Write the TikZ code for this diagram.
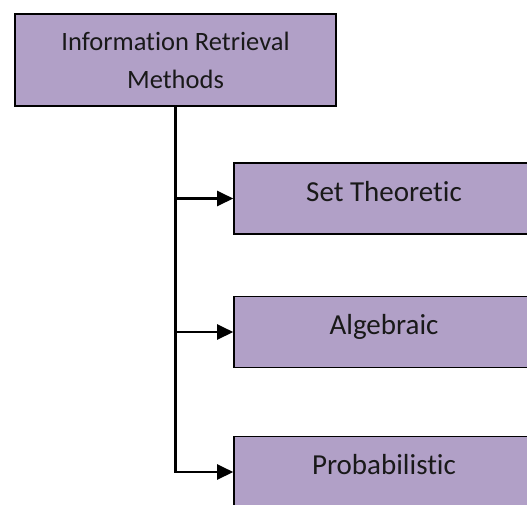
\documentclass[tikz,border=0pt]{standalone}
\usepackage{fontspec}
\setmainfont{Carlito}[Ligatures=NoCommon]
\usetikzlibrary{arrows.meta}
\definecolor{boxfill}{HTML}{B1A0C7}
\begin{document}
\begin{tikzpicture}[x=1pt,y=-1pt,
  box/.style={draw=black, line width=1.6pt, fill=boxfill, inner sep=0pt,
    font=\fontsize{26.5}{38}\selectfont, text=black!90},
  child/.style={box, minimum width=300pt, minimum height=71pt,
    font=\fontsize{29}{36}\selectfont, text height=20pt, text depth=15pt},
  link/.style={line width=2.4pt, -{Triangle[length=16pt,width=15pt]}}]
\useasboundingbox (0,0) rectangle (527,504);
\clip (0,0) rectangle (527,504);
% root node
\node[box, minimum width=321pt, minimum height=92pt, align=center] (ir) at (175.5,60)
  {Information Retrieval\\Methods};
% method categories
\node[child] (st) at (384,198.5) {Set Theoretic};
\node[child] (al) at (384,332) {Algebraic};
\node[child] (pr) at (384,472) {Probabilistic};
% connectors
\draw[link] (ir.south) |- (pr.west);
\draw[link] (ir.south |- st.west) -- (st.west);
\draw[link] (ir.south |- al.west) -- (al.west);
\end{tikzpicture}
\end{document}
